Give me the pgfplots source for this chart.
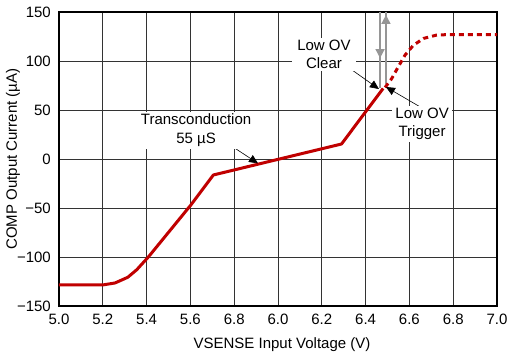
\documentclass[border=0pt]{standalone}
\usepackage{pgfplots}
\pgfplotsset{compat=1.18}
\usepackage{fontspec}
\setmainfont{Liberation Sans}
\usetikzlibrary{arrows.meta}
\definecolor{cred}{RGB}{192,0,0}
\definecolor{cgray}{RGB}{150,150,150}
\begin{document}
\fontsize{15bp}{18bp}\selectfont
\begin{tikzpicture}
\begin{axis}[
  scale only axis, width=438bp, height=294bp,
  xmin=5, xmax=7, ymin=-150, ymax=150,
  xtick={5,5.2,5.4,5.6,5.8,6,6.2,6.4,6.6,6.8,7},
  xticklabels={5.0,5.2,5.4,5.6,6.8,6.0,6.2,6.4,6.6,6.8,7.0},
  ytick={-150,-100,-50,0,50,100,150},
  yticklabels={−150,−100,−50,0,50,100,150},
  grid=major,
  major grid style={black!80, line width=0.8bp},
  major tick length=0pt,
  axis line style={line width=2.5bp},
  tick label style={font=\fontsize{15bp}{18bp}\selectfont},
  xticklabel style={yshift=-3bp},
  yticklabel style={xshift=-3bp},
  xlabel={VSENSE Input Voltage (V)},
  ylabel={COMP Output Current (µA)},
  label style={font=\fontsize{15bp}{18bp}\selectfont},
  xlabel style={at={(axis description cs:0.5,0)}, anchor=center, yshift=-39bp, xshift=4bp},
  ylabel style={at={(axis description cs:0,0.5)}, anchor=center, yshift=46bp},
  clip=false,
]
% gray threshold arrows
\draw[cgray, line width=1.6bp] (axis cs:6.466,150) -- (axis cs:6.466,72);
\draw[cgray, line width=1.6bp, -{Triangle[length=9bp,width=9bp]}] (axis cs:6.466,150) -- (axis cs:6.466,103);
\draw[cgray, line width=1.6bp] (axis cs:6.493,150) -- (axis cs:6.493,77);
\draw[cgray, line width=1.6bp, -{Triangle[length=9bp,width=9bp]}] (axis cs:6.493,77) -- (axis cs:6.493,147);

\addplot[cred, line width=3bp, line join=round] coordinates {
 (5.0,-128.5) (5.2,-128.5) (5.256,-126.5) (5.314,-120.7) (5.355,-113) (5.408,-100)
 (5.6,-47.5) (5.705,-16.3) (6.29,15.3) (6.48,72)
};
\addplot[cred, line width=3bp, dash pattern=on 5bp off 4bp] coordinates {
 (6.489,73) (6.519,82) (6.549,94) (6.58,106) (6.618,116) (6.664,123) (6.725,126.5) (6.785,127) (7.0,127)
};

% annotation arrows
\draw[black, line width=0.6bp, -{Triangle[length=9bp,width=8bp]}] (axis cs:5.767,16.3) -- (axis cs:5.909,-4.5);
\draw[black, line width=0.6bp, -{Triangle[length=9bp,width=8bp]}] (axis cs:6.338,90.8) -- (axis cs:6.461,71.4);
\draw[black, line width=0.6bp, -{Triangle[length=9bp,width=8bp]}] (axis cs:6.658,52) -- (axis cs:6.493,73.5);

\node[fill=white, inner xsep=4bp, inner ysep=2bp, align=center, font=\fontsize{15bp}{19bp}\selectfont] at (axis cs:5.626,29) {Transconduction\\55 µS};
\node[fill=white, inner xsep=5bp, inner ysep=2bp, align=center, font=\fontsize{15bp}{18.5bp}\selectfont] at (axis cs:6.21,107) {Low OV\\Clear};
\node[fill=white, inner xsep=3bp, inner ysep=2bp, align=center, font=\fontsize{15bp}{18.5bp}\selectfont] at (axis cs:6.658,35.7) {Low OV\\Trigger};
\end{axis}
\pgfresetboundingbox
\path[use as bounding box] (-59bp,-48bp) rectangle (448bp,306bp);
\end{tikzpicture}
\end{document}
